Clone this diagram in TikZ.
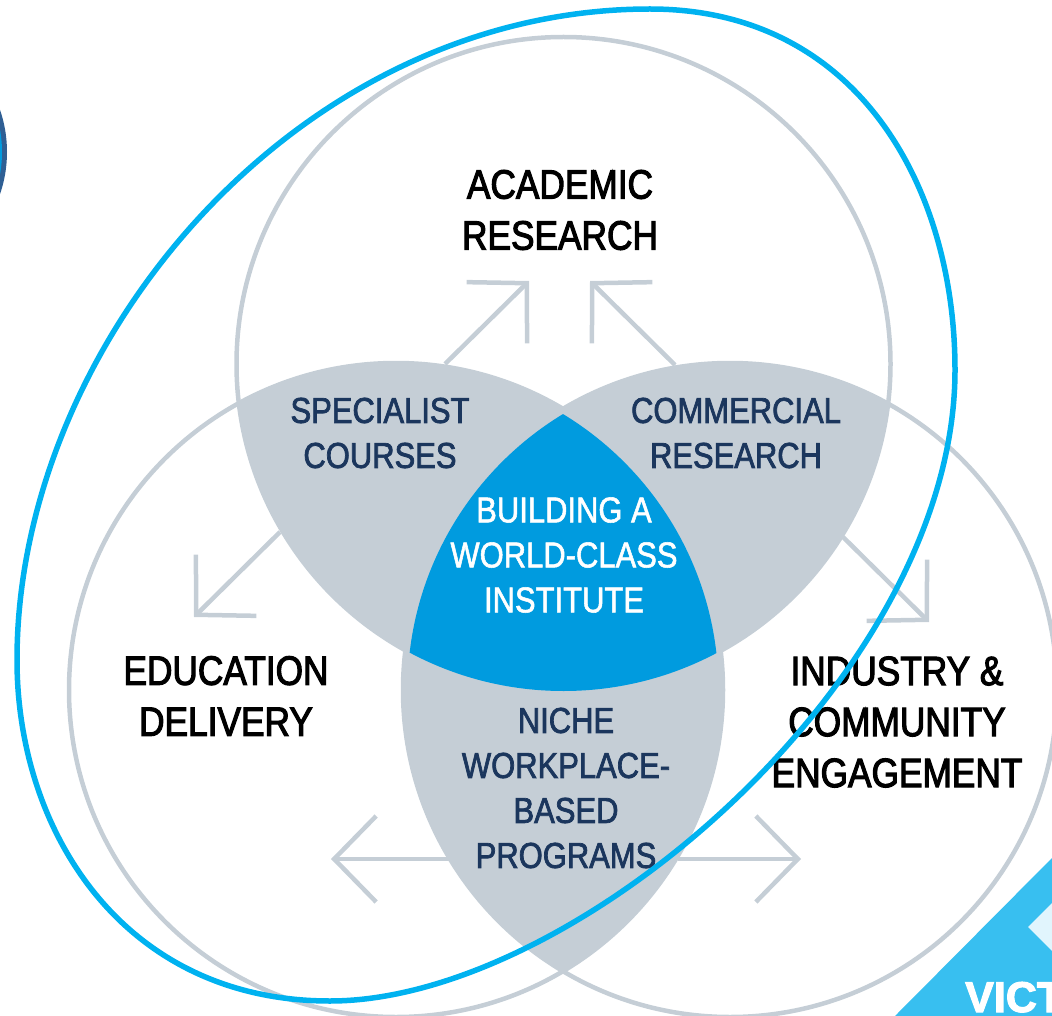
\documentclass[tikz,border=0pt]{standalone}
\usepackage{fontspec}
\setmainfont[FakeStretch=0.86]{Liberation Sans}
\newfontfamily\bigf[FakeStretch=0.86,FakeBold=2.6]{Liberation Sans}
\newfontfamily\midf[FakeStretch=0.86,FakeBold=2.0]{Liberation Sans}
\newfontfamily\lightf[FakeStretch=0.86,FakeBold=1.5]{Liberation Sans}
\newfontfamily\wideb[FakeBold=2.5]{Liberation Sans Bold}
\usetikzlibrary{arrows.meta}
\definecolor{ringgrey}{HTML}{C5CED6}
\definecolor{coreblue}{HTML}{009BDF}
\definecolor{navy}{HTML}{1B365D}
\definecolor{lineblue}{HTML}{00B2F0}
\definecolor{logoblue}{HTML}{38BFF0}
\definecolor{ringdark}{HTML}{2F5F94}
\tikzset{
  x=1pt,y=-1pt,
  ring/.style={circle,draw=ringgrey,line width=4.5pt,minimum size=654pt,inner sep=0pt},
  bigtext/.style={align=center,text=black,font=\bigf\fontsize{41}{51}\selectfont},
  lens/.style={align=center,text=navy,font=\midf\fontsize{36}{45}\selectfont},
  core/.style={align=center,text=white,font=\lightf\fontsize{36}{45}\selectfont},
  barbd/.style={draw=ringgrey,line width=4.5pt,-{Straight Barb[length=42pt,width=86pt,line width=4.5pt]}},
}
\begin{document}
\begin{tikzpicture}
\useasboundingbox (0,0) rectangle (1052,1016);
\clip (0,0) rectangle (1052,1016);
% side badge
\fill[ringdark] (-123,152) circle[radius=130];
\fill[coreblue] (-123,152) circle[radius=125];
% logo
\fill[logoblue] (1052,858) -- (895,1016) -- (1052,1016) -- cycle;
\fill[white!85!logoblue] (1028,927) -- (1054,901) -- (1054,953) -- cycle;
\node[anchor=base west,inner sep=0pt,text=white,font=\wideb\fontsize{43}{43}\selectfont] (logotext) at (965,1012) {VICT};
% circles
\node[ring] (top) at (563.5,364) {};
\node[ring] (left) at (396,690) {};
\node[ring] (right) at (730,690) {};
% lenses
\begin{scope}
  \clip (563.5,364) circle[radius=328];
  \fill[ringgrey] (396,690) circle[radius=328];
  \fill[ringgrey] (730,690) circle[radius=328];
\end{scope}
\begin{scope}
  \clip (396,690) circle[radius=328];
  \fill[ringgrey] (730,690) circle[radius=328];
\end{scope}
\begin{scope}
  \clip (563.5,364) circle[radius=327];
  \clip (396,690) circle[radius=322.5];
  \fill[coreblue] (730,690) circle[radius=322.5];
\end{scope}
% arrows
\coordinate (a1s) at (445,364); \coordinate (a1e) at (529,281);
\coordinate (a2s) at (675,365); \coordinate (a2e) at (590,281);
\coordinate (a3s) at (280,532); \coordinate (a3e) at (194,617);
\coordinate (a4s) at (843,537); \coordinate (a4e) at (929,622);
\coordinate (a5s) at (450,859); \coordinate (a5e) at (331,859);
\coordinate (a6s) at (678,859); \coordinate (a6e) at (801,859);
\foreach \n in {1,...,6} \draw[barbd] (a\n s) -- (a\n e);
% texts
\node[bigtext] (academic) at (560,210) {ACADEMIC\\RESEARCH};
\node[bigtext] (education) at (226,696) {EDUCATION\\DELIVERY};
\node[bigtext] (industry) at (897,722) {INDUSTRY \&\\COMMUNITY\\ENGAGEMENT};
\node[lens] (specialist) at (380,433) {SPECIALIST\\COURSES};
\node[lens] (commercial) at (736,433) {COMMERCIAL\\RESEARCH};
\node[core] (building) at (564,555) {BUILDING A\\WORLD-CLASS\\INSTITUTE};
\node[lens] (niche) at (566,788) {NICHE\\WORKPLACE-\\BASED\\PROGRAMS};
% blue loop
\draw[lineblue,line width=5.5pt] (650,9)
  .. controls (857,9) and (955,186) .. (955,370)
  .. controls (955,675) and (576,1001) .. (330,1001)
  .. controls (123,1001) and (17,831) .. (17,660)
  .. controls (17,343) and (297,9) .. (650,9) -- cycle;
\end{tikzpicture}
\end{document}
